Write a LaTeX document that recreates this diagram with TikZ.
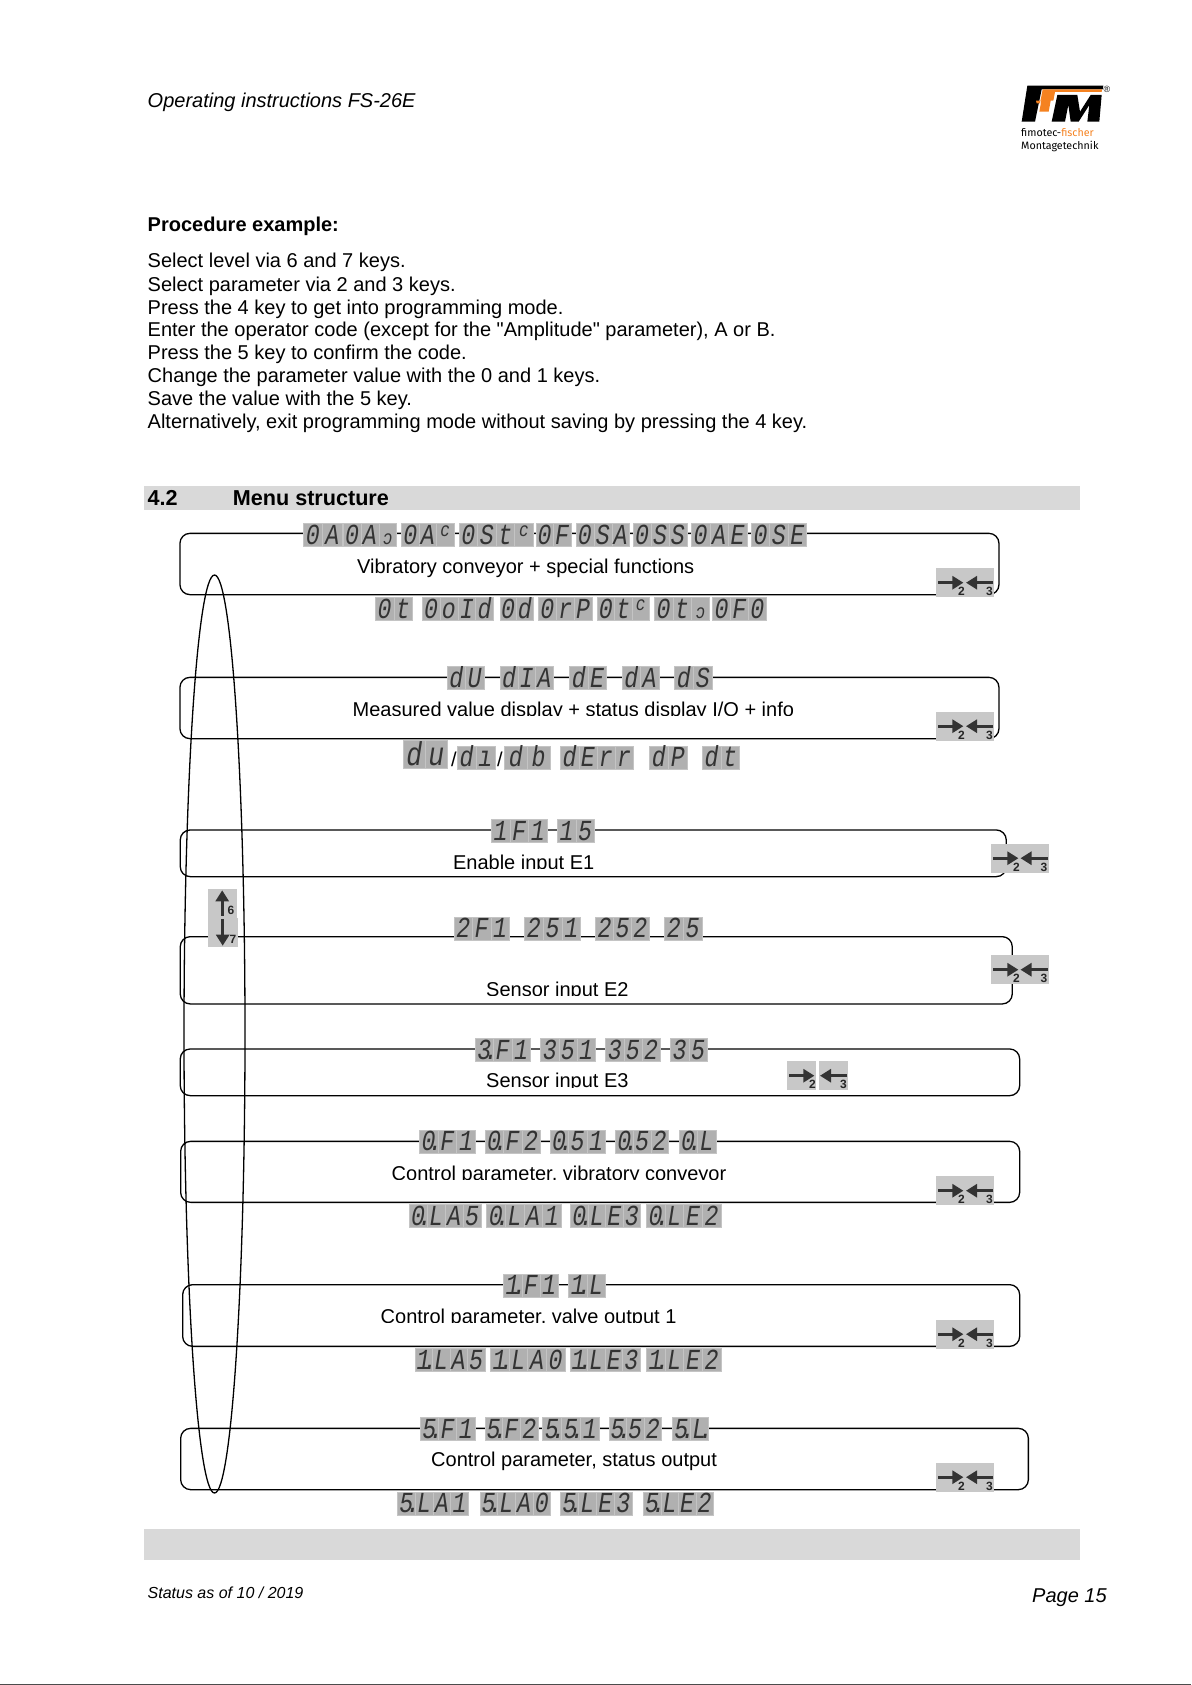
\documentclass[tikz,border=0pt]{standalone}
\usepackage{fontspec}
\setmainfont{Liberation Sans}[Ligatures=TeXOff]
\newfontfamily\segfont{Liberation Mono}[FakeStretch=0.8]
\newfontfamily\logofont{Fira Sans}
\usepackage{xcolor}
\usetikzlibrary{positioning,shapes.geometric,arrows.meta}
\definecolor{segcolor}{HTML}{B0B0B0}
\definecolor{segline}{HTML}{C4C4C4}
\definecolor{keycolor}{HTML}{C8C8C8}
\definecolor{barcolor}{HTML}{D9D9D9}
\definecolor{logoorange}{HTML}{F58220}
\tikzset{
    body/.style={anchor=base west, inner sep=0pt, font=\fontsize{20}{23}\selectfont},
    head/.style={body, font=\fontsize{20}{23}\selectfont\bfseries},
    menubox/.style={draw, line width=1.3pt, rounded corners=10pt, anchor=north west, inner sep=0pt},
    segcell/.style={draw=segline, line width=0.5pt, fill=segcolor, anchor=west, inner sep=0pt, minimum height=23pt, text height=19pt, text depth=0pt, text=black!80, font=\fontsize{29}{29}\segfont\itshape},
    keycell/.style={fill=keycolor, anchor=north west, inner sep=0pt, minimum width=29pt, minimum height=29pt},
    keyarrow/.style={line width=2.6pt, draw=black!80, -{Triangle[length=11pt,width=13pt]}},
    keynum/.style={inner sep=0pt, text=black!85, font=\fontsize{12}{12}\selectfont\bfseries}
}
% upper hook and dotted digit of the display
\newcommand{\hic}{\raisebox{8pt}{\fontsize{20}{20}\segfont\itshape c}}
\newcommand{\loc}{\fontsize{20}{20}\segfont\itshape ɔ}
\newcommand{\dotd}[1]{#1\rlap{\hspace{-7pt}.}}
% name, x, y centre, cell width, characters
\newcommand{\seggroup}[6][]{%
    \foreach \c [count=\i from 0] in {#6} {
        \node[segcell, minimum width=#5pt, #1] (#2\i) at ({#3+\i*#5},#4) {\c};
    }
}
% name, x of key 2, x of key 3, y
\newcommand{\keypair}[4]{%
    \node[keycell] (#1two) at (#2,#4) {};
    \node[keycell] (#1three) at (#3,#4) {};
    \draw[keyarrow] ([xshift=2pt]#1two.west) -- ([xshift=-2pt]#1two.east);
    \draw[keyarrow] ([xshift=-1pt]#1three.east) -- ([xshift=1pt]#1three.west);
    \node[keynum] (#1twonum) at ([xshift=-4pt,yshift=6pt]#1two.south east) {2};
    \node[keynum] (#1threenum) at ([xshift=-5pt,yshift=6pt]#1three.south east) {3};
}
\begin{document}
\begin{tikzpicture}[x=1pt, y=-1pt]
    \useasboundingbox (0,0) rectangle (1191,1685);
    \fill[white] (0,0) rectangle (1191,1685);
    \draw[line width=1pt, black!70] (0,1684) -- (1191,1684);

    % Header
    \node[body, font=\fontsize{20}{23}\selectfont\itshape] (title) at (147.5,108) {Operating instructions FS-26E};
    \begin{scope}[shift={(1000,70)}, scale=0.3333]
        \fill[black] (82,47) -- (310,47) -- (308,58) -- (125,58) -- (105,155) -- (65,155) -- cycle;
        \fill[logoorange] (128,58) -- (306,58) -- (305,66) -- (165,66) -- (160,92) -- (152,92) -- (146,125) -- (118,125) -- (124,92) -- (108,92) -- (110,100) -- (120,100) -- cycle;
        \fill[black] (172,75) -- (232,75) -- (240,125) -- (272,75) -- (305,75) -- (298,155) -- (262,155) -- (268,105) -- (236,155) -- (212,155) -- (205,105) -- (195,155) -- (155,155) -- cycle;
    \end{scope}
    \node[inner sep=0pt, font=\fontsize{9}{9}\selectfont] (logoreg) at (1107,89) {®};
    \node[anchor=base west, inner sep=0pt, font=\logofont\fontsize{10.7}{12}\selectfont] (logoa) at (1021,137) {fimotec-\textcolor{logoorange}{fischer}};
    \node[anchor=base west, inner sep=0pt, font=\logofont\fontsize{10.7}{12}\selectfont] (logob) at (1021,150) {Montagetechnik};

    % Procedure text
    \node[head] (proc) at (147.5,232) {Procedure example:};
    \node[body] (la) at (147.5,268) {Select level via 6 and 7 keys.};
    \node[body] (lb) at (147.5,291) {Select parameter via 2 and 3 keys.};
    \node[body] (lc) at (147.5,314) {Press the 4 key to get into programming mode.};
    \node[body] (ld) at (147.5,336.5) {Enter the operator code (except for the "Amplitude" parameter), A or B.};
    \node[body] (le) at (147.5,359.5) {Press the 5 key to confirm the code.};
    \node[body] (lf) at (147.5,382.5) {Change the parameter value with the 0 and 1 keys.};
    \node[body] (lg) at (147.5,405.5) {Save the value with the 5 key.};
    \node[body] (lh) at (147.5,428) {Alternatively, exit programming mode without saving by pressing the 4 key.};

    % Section bars
    \fill[barcolor] (144,486) rectangle (1080,510);
    \fill[barcolor] (144,1529) rectangle (1080,1560);
    \node[head, font=\fontsize{21.6}{23}\selectfont\bfseries] (secnum) at (147.5,505) {4.2};
    \node[head, font=\fontsize{21.6}{23}\selectfont\bfseries] (sec) at (232.7,505) {Menu structure};

    % Menu frames
    \node[menubox, minimum width=819pt, minimum height=61.3pt] (boxa) at (179.3,532.7) {};
    \node[menubox, minimum width=819pt, minimum height=61.3pt] (boxb) at (179.3,676.7) {};
    \node[menubox, minimum width=826pt, minimum height=46.7pt] (boxc) at (179.6,829.3) {};
    \node[menubox, minimum width=832pt, minimum height=67.3pt] (boxd) at (179.6,936) {};
    \node[menubox, minimum width=839.4pt, minimum height=46.7pt] (boxe) at (179.6,1048.3) {};
    \node[menubox, minimum width=839pt, minimum height=61pt] (boxf) at (180,1140.7) {};
    \node[menubox, minimum width=837pt, minimum height=61.7pt] (boxg) at (182,1284) {};
    \node[menubox, minimum width=847.7pt, minimum height=61.3pt] (boxh) at (180,1427.7) {};

    % Frame labels
    \node[body] (laba) at (357,573.3) {Vibratory conveyor + special functions};
    \node[body] (labb) at (352.5,716) {Measured value display + status display I/O + info};
    \node[body] (labc) at (452.9,869) {Enable input E1};
    \node[body] (labd) at (486,996) {Sensor input E2};
    \node[body] (labe) at (486,1087.7) {Sensor input E3};
    \node[body] (labf) at (391.5,1180) {Control parameter, vibratory conveyor};
    \node[body] (labg) at (380.5,1323.3) {Control parameter, valve output 1};
    \node[body] (labh) at (431,1466.7) {Control parameter, status output};
    % the descenders are cut off in these lines
    \foreach \n in {labb,labc,labd,labe,labf,labg} {
        \fill[white] (\n.base west) rectangle ([yshift=-6pt]\n.base east);
    }

    % Selection ellipse
    \node[ellipse, draw, line width=1.3pt, inner sep=0pt, minimum width=61pt, minimum height=918pt] (sel) at (214.5,1034) {};

    % Displays of the first frame
    \seggroup{ra}{302.9}{534.5}{19.4}{0,A}
    \seggroup{rb}{342.9}{534.5}{17.8}{0,A,\loc}
    \seggroup{rc}{401.4}{534.5}{17.4}{0,A,\hic}
    \seggroup{rd}{458.9}{534.5}{18.5}{0,S,t,\hic}
    \seggroup{re}{535.7}{534.5}{17.4}{0,F}
    \seggroup{rf}{575.7}{534.5}{17.9}{0,S,A}
    \seggroup{rg}{632.9}{534.5}{17.9}{0,S,S}
    \seggroup{rh}{691}{534.5}{18.5}{0,A,E}
    \seggroup{ri}{751}{534.5}{18.4}{0,S,E}

    \seggroup{sa}{375}{608.5}{18.5}{0,t}
    \seggroup{sb}{422}{608.5}{17.8}{0,o,I,d}
    \seggroup{sc}{499.6}{608.5}{16.7}{0,d}
    \seggroup{sd}{538.2}{608.5}{17.9}{0,r,P}
    \seggroup{se}{597}{608.5}{17.4}{0,t,\hic}
    \seggroup{sf}{654.3}{608.5}{18.3}{0,t,\loc}
    \seggroup{sg}{712.3}{608.5}{17.9}{0,F,0}

    % Second frame
    \seggroup{ta}{447}{677.5}{18.3}{d,U}
    \seggroup{tb}{500}{677.5}{17.6}{d,I,A}
    \seggroup{tc}{569.3}{677.5}{18.4}{d,E}
    \seggroup{td}{622}{677.5}{18.3}{d,A}
    \seggroup{te}{674}{677.5}{19.1}{d,S}

    \seggroup[minimum height=28pt, text height=22pt, font=\fontsize{33}{33}\segfont\itshape]{ua}{403.2}{754.7}{21.9}{d,u}
    \node[inner sep=0pt, font=\fontsize{20}{20}\selectfont] (uslasha) at (454,759) {/};
    \seggroup{ub}{457}{757.3}{18.8}{d,ı}
    \node[inner sep=0pt, font=\fontsize{20}{20}\selectfont] (uslashb) at (500,759) {/};
    \seggroup{uc}{504.3}{757.3}{22.7}{d,b}
    \seggroup{ud}{560.4}{757.3}{18.1}{d,E,r,r}
    \seggroup{ue}{649}{757.3}{19}{d,P}
    \seggroup{uf}{702}{757.3}{18.5}{d,t}

    % Inputs
    \seggroup{va}{491}{830.8}{18.6}{1,F,1}
    \seggroup{vb}{557}{830.8}{18.5}{1,5}

    \seggroup{wa}{454}{928.3}{18.3}{2,F,1}
    \seggroup{wb}{524.3}{928.3}{18.7}{2,5,1}
    \seggroup{wc}{595.4}{928.3}{17.9}{2,5,2}
    \seggroup{wd}{664.3}{928.3}{18.7}{2,5}

    \seggroup{xa}{475}{1049.5}{18.3}{\dotd{3},F,1}
    \seggroup{xb}{540.4}{1049.5}{18.2}{3,5,1}
    \seggroup{xc}{605.4}{1049.5}{18.2}{3,5,2}
    \seggroup{xd}{670}{1049.5}{18.5}{3,5}

    % Control parameter, vibratory conveyor
    \seggroup{ya}{419}{1141.4}{18.7}{\dotd{0},F,1}
    \seggroup{yb}{484.5}{1141.4}{18.5}{\dotd{0},F,2}
    \seggroup{yc}{549.6}{1141.4}{18.5}{\dotd{0},5,1}
    \seggroup{yd}{615.4}{1141.4}{17.6}{\dotd{0},5,2}
    \seggroup{ye}{678.6}{1141.4}{18.5}{\dotd{0},L}

    \seggroup{za}{408.8}{1216.2}{18}{\dotd{0},L,A,5}
    \seggroup{zb}{486.4}{1216.2}{18.6}{\dotd{0},L,A,1}
    \seggroup{zc}{570.3}{1216.2}{17.5}{\dotd{0},L,E,3}
    \seggroup{zd}{646}{1216.2}{18.7}{\dotd{0},L,E,2}

    % Control parameter, valve output 1
    \seggroup{aa}{503.3}{1285.3}{18.2}{\dotd{1},F,1}
    \seggroup{ab}{568.3}{1285.3}{18.4}{\dotd{1},L}

    \seggroup{ac}{414.5}{1359.5}{17.5}{\dotd{1},L,A,5}
    \seggroup{ad}{490}{1359.5}{18.7}{\dotd{1},L,A,0}
    \seggroup{ae}{569.5}{1359.5}{17.6}{\dotd{1},L,E,3}
    \seggroup{af}{646}{1359.5}{18.7}{\dotd{1},L,E,2}

    % Control parameter, status output
    \seggroup{ba}{420}{1428.8}{18.2}{\dotd{5},F,1}
    \seggroup{bb}{484.5}{1428.8}{17.8}{\dotd{5},F,2}
    \seggroup{bc}{542}{1428.8}{19}{\dotd{5},\dotd{5},1}
    \seggroup{bd}{608.5}{1428.8}{17.6}{\dotd{5},5,2}
    \seggroup{be}{672}{1428.8}{18}{\dotd{5},\dotd{L}}

    \seggroup{bf}{397.3}{1503.3}{17.7}{\dotd{5},L,A,1}
    \seggroup{bg}{479.6}{1503.3}{17.7}{\dotd{5},L,A,0}
    \seggroup{bh}{560}{1503.3}{18}{\dotd{5},L,E,3}
    \seggroup{bi}{643}{1503.3}{17.5}{\dotd{5},L,E,2}

    % Keys
    \keypair{ka}{936}{965}{568}
    \keypair{kb}{936}{965}{711.5}
    \keypair{kc}{991}{1019.5}{843.5}
    \keypair{kd}{991}{1019.5}{955}
    \keypair{ke}{787}{819}{1061}
    \keypair{kf}{936}{965}{1176}
    \keypair{kg}{936}{965}{1319.5}
    \keypair{kh}{936}{965}{1462.5}

    \node[keycell] (kup) at (208,888.3) {};
    \node[keycell, minimum width=30pt] (kdown) at (208,917.3) {};
    \draw[keyarrow] ([xshift=-0.5pt,yshift=2pt]kup.south) -- ([xshift=-0.5pt,yshift=-2pt]kup.north);
    \draw[keyarrow] ([xshift=-0.5pt,yshift=-2pt]kdown.north) -- ([xshift=-0.5pt,yshift=1pt]kdown.south);
    \node[keynum] (kupnum) at (231,910) {6};
    \node[keynum] (kdownnum) at (233,939) {7};

    % Footer
    \node[body, font=\fontsize{16}{18}\selectfont\itshape] (status) at (147.5,1598.5) {Status as of 10 / 2019};
    \node[body, font=\fontsize{20}{23}\selectfont\itshape] (page) at (1032,1602) {Page 15};
\end{tikzpicture}
\end{document}
